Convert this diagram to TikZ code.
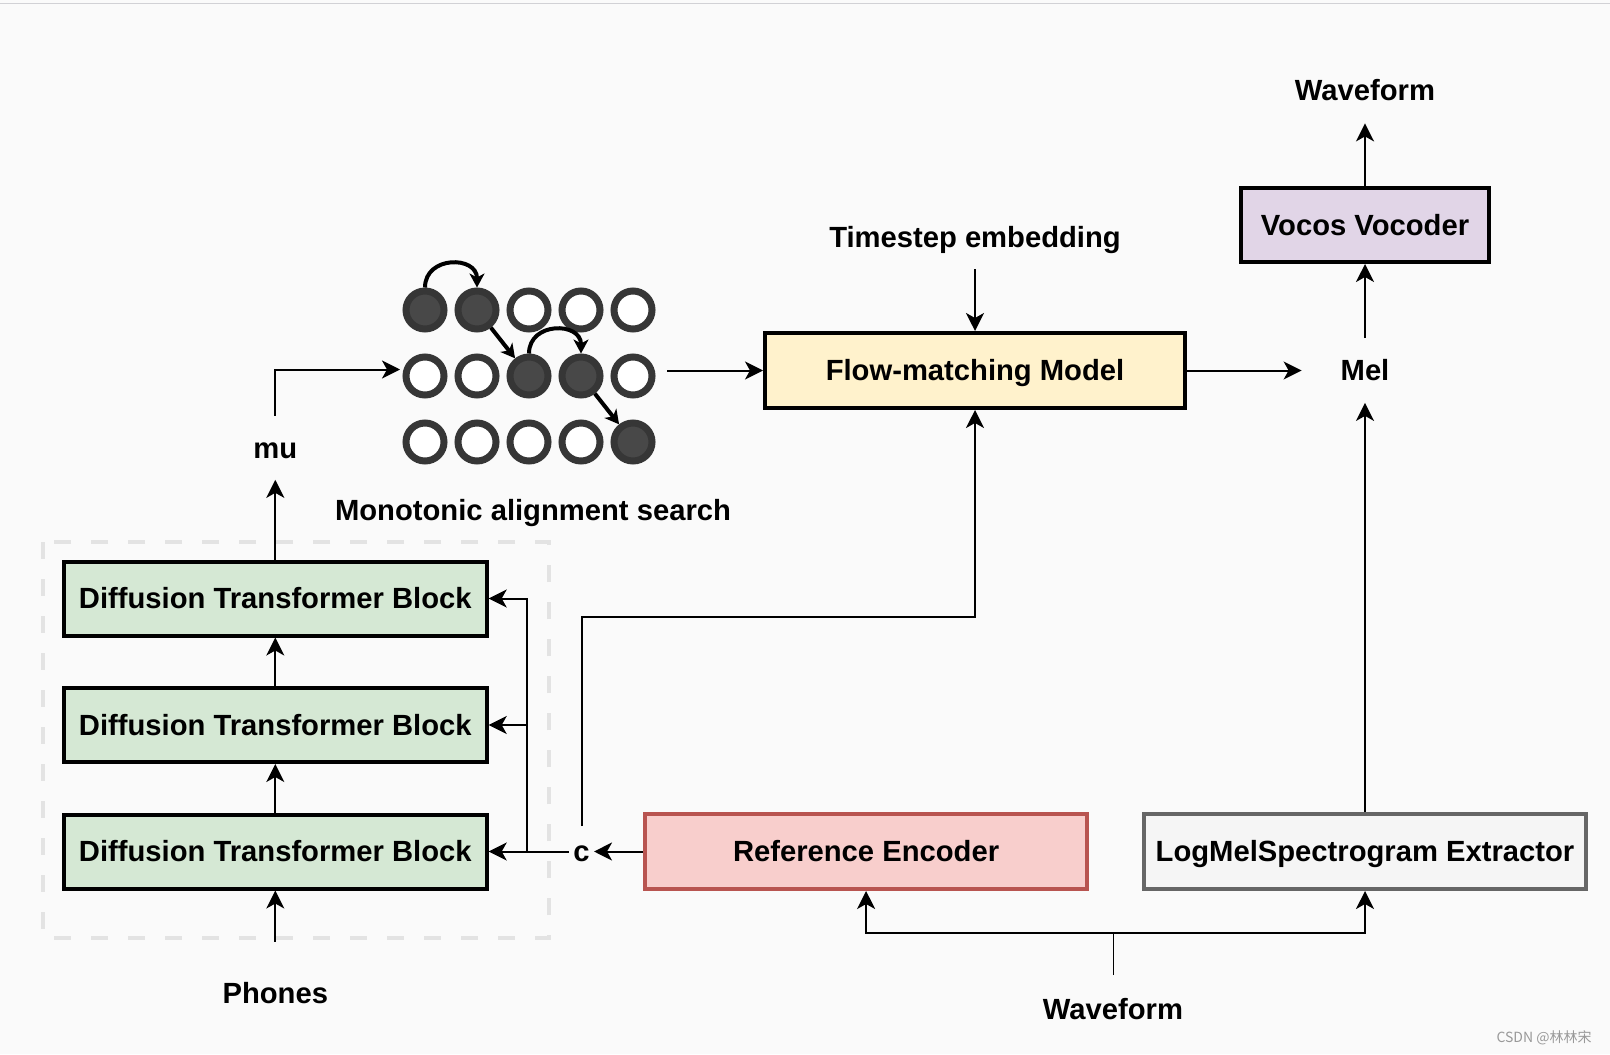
\documentclass[tikz,border=0pt]{standalone}
\usepackage{fontspec}
\setmainfont{Liberation Sans}
\newfontfamily\cjk{Noto Sans CJK SC}
\usepackage{xcolor}
\usetikzlibrary{arrows.meta}

\definecolor{dtbgreen}{HTML}{D5E8D4}
\definecolor{flowyellow}{HTML}{FFF2CC}
\definecolor{vocpurple}{HTML}{E1D5E7}
\definecolor{refred}{HTML}{F8CECC}
\definecolor{refborder}{HTML}{B85450}
\definecolor{melgray}{HTML}{F5F5F5}
\definecolor{melborder}{HTML}{666666}
\definecolor{dotfill}{HTML}{484848}
\definecolor{dotring}{HTML}{363636}

\begin{document}
\begin{tikzpicture}[x=0.5pt, y=-0.5pt,
    box/.style={draw=black, line width=2pt, minimum height=37pt, inner sep=0pt,
      text height=10.45pt, text depth=0pt,
      font=\bfseries\fontsize{14.6}{17}\selectfont},
    lbl/.style={inner sep=0pt, text height=10.45pt, text depth=0pt,
      font=\bfseries\fontsize{14.6}{17}\selectfont},
    conn/.style={line width=1pt, -{Stealth[length=9pt, width=9pt, inset=2.5pt]}},
    hop/.style={line width=2pt, -{Stealth[length=7pt, width=7.5pt, inset=2pt]}},
    circ/.style={circle, line width=3.5pt, minimum size=19pt, inner sep=0pt}]
  \fill[white!98!black] (0,0) rectangle (1610,1054);
  \useasboundingbox (0,0) rectangle (1610,1054);
  \draw[color=blue!8!black!18, line width=0.9pt] (0,3.5) -- (1610,3.5);

  % text encoder stack
  \draw[black!11, line width=2.4pt, dash pattern=on 8.5pt off 10pt] (43,542) rectangle (549,938);
  \node[box, fill=dtbgreen, minimum width=211.4pt] (d1) at (275.3,598.5) {Diffusion Transformer Block};
  \node[box, fill=dtbgreen, minimum width=211.4pt] (d2) at (275.3,725) {Diffusion Transformer Block};
  \node[box, fill=dtbgreen, minimum width=211.4pt] (d3) at (275.3,851.5) {Diffusion Transformer Block};
  \node[lbl, minimum height=51pt] (ph) at (275.3,992.9) {Phones};
  \node[lbl, minimum height=31.75pt] (mu) at (275.3,447.7) {mu};
  \node[lbl, minimum height=25pt, inner xsep=2pt] (c) at (581.5,851.5) {c};

  % alignment grid
  \foreach \r/\a/\b in {1/1/2,2/3/4,3/5/5}{
    \foreach \c in {1,...,5}{
      \def\fc{white}\def\dc{dotring}
      \ifnum\c<\a\relax\else\ifnum\c>\b\relax\else\def\fc{dotfill}\fi\fi
      \node[circ, fill=\fc, draw=\dc] (m\r\c) at ({425+52*(\c-1)},{310+66*(\r-1)}) {};
    }
  }
  \draw[hop] (m11.north) .. controls +(0,-32) and +(0,-32) .. (m12.north);
  \draw[hop] (m23.north) .. controls +(0,-32) and +(0,-32) .. (m24.north);
  \draw[hop] (m12) -- (m23);
  \draw[hop] (m24) -- (m35);
  \node[lbl] (maslbl) at (533,510.3) {Monotonic alignment search};
  \coordinate (masin) at (400,369.5);
  \coordinate (masout) at (667.4,370.5);

  % flow matching and vocoder
  \node[box, fill=flowyellow, minimum width=210pt, minimum height=37.5pt] (flow) at (975,370.5) {Flow-matching Model};
  \node[lbl, minimum height=32pt] (ts) at (975,237) {Timestep embedding};
  \node[lbl, minimum height=32pt, minimum width=63pt] (mel) at (1365,370.5) {Mel};
  \node[box, fill=vocpurple, minimum width=123.8pt] (voc) at (1365,225) {Vocos Vocoder};
  \node[lbl, minimum height=32.6pt] (wt) at (1365,90.4) {Waveform};

  % reference branch
  \node[box, draw=refborder, fill=refred, minimum width=221.3pt, minimum height=37.5pt] (ref) at (866.1,851.5) {Reference Encoder};
  \node[box, draw=melborder, fill=melgray, minimum width=220.7pt, minimum height=37.5pt] (logmel) at (1365,851.5) {LogMelSpectrogram Extractor};
  \node[lbl, minimum height=34pt] (wb) at (1113,1009.4) {Waveform};
  \coordinate (wsplit) at (1113,933.4);
  \coordinate (bus) at (526.7,851.5);

  \draw[conn] (ph) -- (d3);
  \draw[conn] (d3) -- (d2);
  \draw[conn] (d2) -- (d1);
  \draw[conn] (d1) -- (mu);
  \draw[conn] (mu.north) |- (masin);
  \draw[conn] (masout) -- (flow);
  \draw[conn] (ts) -- (flow);
  \draw[conn] (flow) -- (mel);
  \draw[conn] (mel) -- (voc);
  \draw[conn] (voc) -- (wt);
  \draw[conn] (logmel) -- (mel);
  \draw[conn] (ref) -- (c);
  \draw[conn] (c) -- (d3);
  \draw[conn] (bus) |- (d2.east);
  \draw[conn] (bus) |- (d1.east);
  \draw[conn] (c.north) -- ++(0,-209.4) -| (flow.south);
  \draw (wb) -- (wsplit);
  \draw[conn] (wsplit) -| (ref.south);
  \draw[conn] (wsplit) -| (logmel.south);

  \node[font=\cjk\fontsize{7}{8}\selectfont, text=black!40, inner sep=0pt] (mark) at (1544,1038) {CSDN @林林宋};
\end{tikzpicture}
\end{document}
